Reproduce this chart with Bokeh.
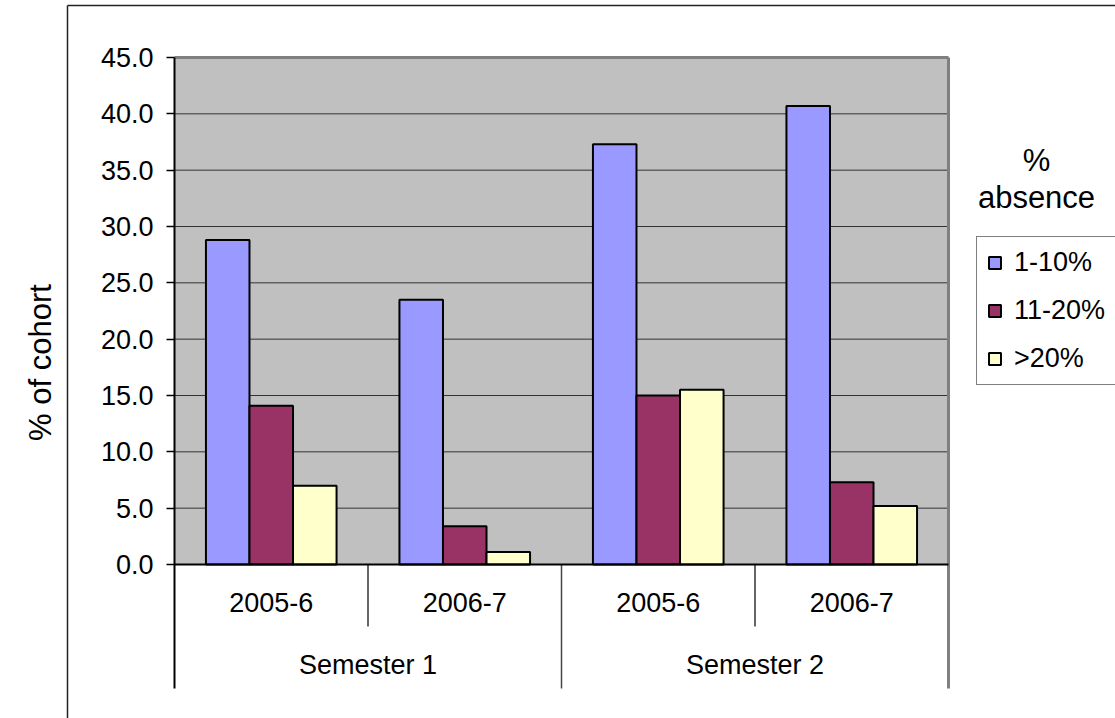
import math
from bokeh.plotting import figure
from bokeh.models import (FactorRange, Range1d, ColumnDataSource, FixedTicker,
                          PrintfTickFormatter, CategoricalAxis, LinearAxis, Legend,
                          LegendItem, Label, BoxAnnotation)
from bokeh.transform import dodge
from bokeh.embed import file_html
from bokeh.resources import INLINE

# ---- data ----
semesters = ["Semester 1", "Semester 1", "Semester 2", "Semester 2"]
years = ["2005-6", "2006-7", "2005-6", "2006-7"]
semester_labels = ["Semester 1", "Semester 2"]
series_names = ["1-10%", "11-20%", ">20%"]
absence_1_10 = [28.8, 23.5, 37.3, 40.7]
absence_11_20 = [14.1, 3.4, 15.0, 7.3]
absence_gt_20 = [7.0, 1.1, 15.5, 5.2]
y_ticks = [0, 5, 10, 15, 20, 25, 30, 35, 40, 45]

# ---- styling / layout ----
series_colors = ["#9999FF", "#993366", "#FFFFCC"]
FONT = "Liberation Sans"
W, H = 1115, 718
FRAME_LEFT = 7
PX_LEFT, PX_RIGHT = 174, 948      # plot-area pixel edges
PY_TOP, PY_ZERO = 57, 564
Y_MAX = y_ticks[-1]
n = len(semesters)
unit_x = (PX_RIGHT - PX_LEFT) / n
unit_y = (PY_ZERO - PY_TOP) / Y_MAX
pad_side = (PX_LEFT - FRAME_LEFT) / unit_x      # absolute padding applied on each side
Y_TOP = Y_MAX + PY_TOP / unit_y
Y_BOTTOM = -(H - PY_ZERO) / unit_y
SEP_SHORT = -62 / unit_y
SEP_LONG = -124 / unit_y


def xs(px):
    return (px - PX_LEFT) / unit_x


def ys(py):
    return (PY_ZERO - py) / unit_y


factors = list(zip(semesters, years))
source = ColumnDataSource(data=dict(x=factors, s1=absence_1_10, s2=absence_11_20, s3=absence_gt_20))

x_range = FactorRange(factors=factors, factor_padding=0, group_padding=0,
                      range_padding=pad_side, range_padding_units="absolute")

p = figure(width=W, height=H, x_range=x_range, y_range=Range1d(Y_BOTTOM, Y_TOP),
           output_backend="svg", toolbar_location=None,
           x_axis_location=None, y_axis_location=None,
           min_border_left=FRAME_LEFT, min_border_right=0, min_border_top=0, min_border_bottom=0)
p.background_fill_color = "white"
p.border_fill_color = "white"
p.outline_line_color = None
p.xgrid.visible = False
p.ygrid.visible = False

# grey plot area
p.add_layout(BoxAnnotation(left=0, right=n, bottom=0, top=Y_MAX, fill_color="#C0C0C0",
                           fill_alpha=1, line_color=None, level="underlay"))

# horizontal gridlines
grid_y = [t for t in y_ticks if 0 < t < Y_MAX]
p.segment(x0=0, x1=n, y0=grid_y, y1=grid_y, line_color="#333333", line_width=1)

# bars
cols = ["s1", "s2", "s3"]
offsets = [-0.225, 0.0, 0.225]
renderers = []
for col, off, color in zip(cols, offsets, series_colors):
    r = p.vbar(x=dodge("x", off, range=p.x_range), top=col, width=0.225, source=source,
               fill_color=color, line_color="black", line_width=2)
    renderers.append(r)

# category separators below the axis
short_x, long_x = [], []
for i in range(1, n):
    (long_x if semesters[i] != semesters[i - 1] else short_x).append(i)
p.segment(x0=short_x, y0=0, x1=short_x, y1=SEP_SHORT, line_color="#333333", line_width=1.5)
p.segment(x0=long_x, y0=0, x1=long_x, y1=SEP_LONG, line_color="#444444", line_width=1.5)

# grey plot-area border (top and right)
p.segment(x0=[n], y0=[SEP_LONG], x1=[n], y1=[Y_MAX], line_color="#808080", line_width=3)
p.segment(x0=[0], y0=[Y_MAX], x1=[n], y1=[Y_MAX], line_color="#808080", line_width=3)

# outer chart frame
p.segment(x0=[xs(67)], y0=[ys(5)], x1=[xs(67)], y1=[ys(H + 5)], line_color="#222222", line_width=1.5)
p.segment(x0=[xs(67)], y0=[ys(5)], x1=[xs(W + 5)], y1=[ys(5)], line_color="#222222", line_width=1.5)

# y axis
yax = LinearAxis(fixed_location=0, bounds=(SEP_LONG, Y_MAX),
                 ticker=FixedTicker(ticks=y_ticks),
                 formatter=PrintfTickFormatter(format="%.1f"),
                 major_tick_out=8, major_tick_in=0, major_tick_line_width=1.5,
                 minor_tick_line_color=None, axis_line_width=2, axis_line_color="black",
                 major_label_text_font=FONT, major_label_text_font_size="27px",
                 major_label_text_color="black", major_label_standoff=13)
p.add_layout(yax, "left")

# category axis (years)
xax = CategoricalAxis(fixed_location=0, bounds=(0, n), axis_line_width=2, axis_line_color="black",
                      major_tick_line_color=None, minor_tick_line_color=None,
                      major_label_text_font=FONT, major_label_text_font_size="27px",
                      major_label_text_color="black", major_label_standoff=22,
                      group_text_color=None, separator_line_color=None)
p.add_layout(xax, "below")

# semester axis: each semester spans two year-categories
p.extra_x_ranges = {"sem": FactorRange(factors=semester_labels, factor_padding=0,
                                       range_padding=pad_side * len(semester_labels) / n,
                                       range_padding_units="absolute")}
sax = CategoricalAxis(x_range_name="sem", fixed_location=0, axis_line_color=None,
                      major_tick_line_color=None, minor_tick_line_color=None,
                      major_label_text_font=FONT, major_label_text_font_size="27px",
                      major_label_text_color="black", major_label_standoff=79)
p.add_layout(sax, "below")

# y axis title
p.add_layout(Label(x=xs(40), y=ys(362), text="% of cohort", angle=math.pi / 2,
                   text_align="center", text_baseline="middle",
                   text_font=FONT, text_font_size="31px", text_color="black"))

# legend
legend = Legend(items=[LegendItem(label=nm, renderers=[r]) for nm, r in zip(series_names, renderers)],
                location=(976 - FRAME_LEFT, H - 385), orientation="vertical",
                border_line_color="black", border_line_width=1,
                background_fill_color="white", background_fill_alpha=1,
                label_text_font=FONT, label_text_font_size="27px", label_text_color="black",
                glyph_width=15, glyph_height=15, label_height=31, label_standoff=12,
                spacing=17, padding=10, margin=0)
p.add_layout(legend, "center")

for txt, py in [("%", 160), ("absence", 197)]:
    p.add_layout(Label(x=xs(1036), y=ys(py), text=txt,
                       text_align="center", text_baseline="middle",
                       text_font=FONT, text_font_size="31px", text_color="black"))

open("out.html", "w").write(file_html(p, INLINE))
